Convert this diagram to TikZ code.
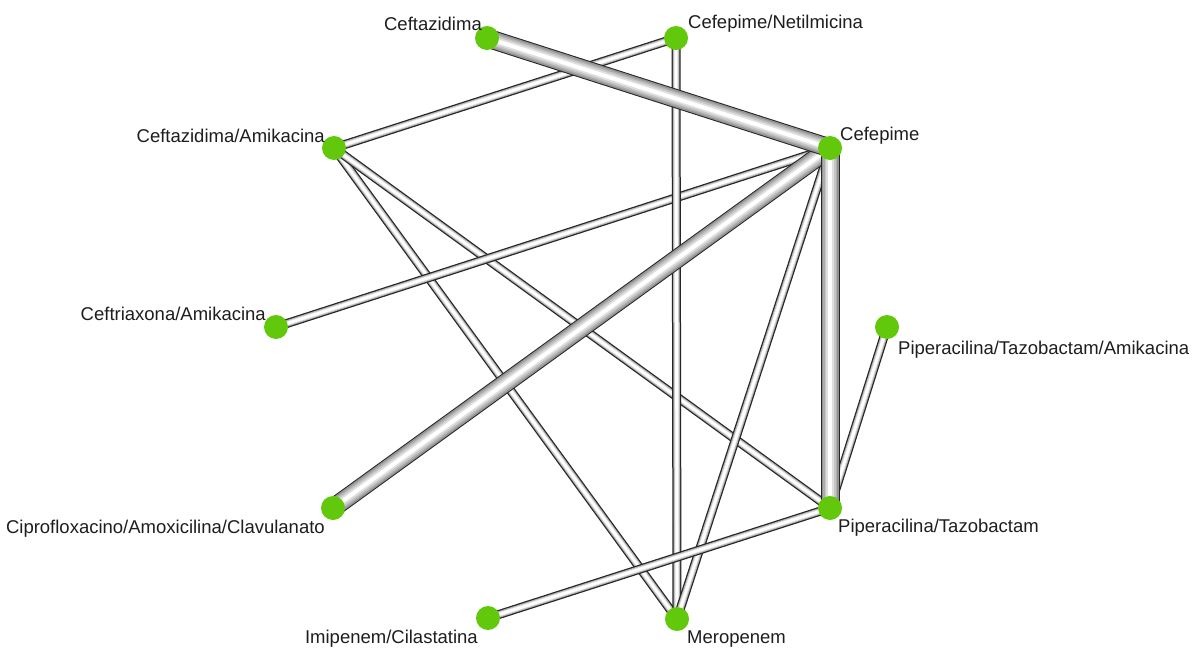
\documentclass[tikz,border=0pt]{standalone}
\usepackage{fontspec}
\setmainfont{Liberation Sans}
\usetikzlibrary{backgrounds}
\definecolor{nodegreen}{RGB}{98,200,12}
\definecolor{labelgray}{RGB}{30,30,30}
\newcommand\thinlink[2]{%
  \draw[line width=9pt, black!85] (#1.center) -- (#2.center);
  \draw[line width=6.5pt, gray!60] (#1.center) -- (#2.center);
  \draw[line width=4.5pt, gray!25] (#1.center) -- (#2.center);
  \draw[line width=2.8pt, white] (#1.center) -- (#2.center);}
\newcommand\thicklink[2]{%
  \draw[line width=19pt, black!85] (#1.center) -- (#2.center);
  \draw[line width=17pt, gray!85] (#1.center) -- (#2.center);
  \draw[line width=14pt, gray!65] (#1.center) -- (#2.center);
  \draw[line width=11pt, gray!45] (#1.center) -- (#2.center);
  \draw[line width=7.5pt, gray!25] (#1.center) -- (#2.center);
  \draw[line width=4pt, white] (#1.center) -- (#2.center);}
\tikzset{
  dot/.style={circle, fill=nodegreen, minimum size=24pt, inner sep=0pt},
  lbl/.style={inner sep=0pt, text=labelgray, font=\fontsize{18.5}{20}\selectfont}
}
\begin{document}
\begin{tikzpicture}[x=1pt,y=-1pt]
\useasboundingbox (0,0) rectangle (1201,650);
% nodes
\node[dot] (ceftaz)   at (487,38) {};
\node[dot] (cefnet)   at (676,38) {};
\node[dot] (ceftazam) at (334,148) {};
\node[dot] (cefepime) at (830,148) {};
\node[dot] (ceftriam) at (276,327) {};
\node[dot] (pipta)    at (887,327) {};
\node[dot] (cipro)    at (333,508) {};
\node[dot] (pipt)     at (830,508) {};
\node[dot] (imip)     at (488,618) {};
\node[dot] (merop)    at (677,619) {};
% edges
\begin{scope}[on background layer]
  \fill[white] (0,0) rectangle (1201,650);
  \thinlink{ceftazam}{merop}
  \thinlink{ceftazam}{pipt}
  \thinlink{cefepime}{ceftriam}
  \thinlink{cefnet}{merop}
  \thinlink{cefepime}{merop}
  \thinlink{pipt}{imip}
  \thinlink{pipta}{pipt}
  \thicklink{cefepime}{cipro}
  \thicklink{cefepime}{pipt}
  \thinlink{cefnet}{ceftazam}
  \thicklink{ceftaz}{cefepime}
\end{scope}
% labels
\node[lbl, anchor=east] (l1) at (482,24) {Ceftazidima};
\node[lbl, anchor=west] (l2) at (688,24) {Cefepime/Netilmicina};
\node[lbl, anchor=east] (l3) at (325,136) {Ceftazidima/Amikacina};
\node[lbl, anchor=west] (l4) at (840,136) {Cefepime};
\node[lbl, anchor=east] (l5) at (266,314) {Ceftriaxona/Amikacina};
\node[lbl, anchor=west] (l6) at (898,350) {Piperacilina/Tazobactam/Amikacina};
\node[lbl, anchor=east] (l7) at (325,529) {Ciprofloxacino/Amoxicilina/Clavulanato};
\node[lbl, anchor=west] (l8) at (838,528) {Piperacilina/Tazobactam};
\node[lbl, anchor=east] (l9) at (478,639) {Imipenem/Cilastatina};
\node[lbl, anchor=west] (l10) at (687,639) {Meropenem};
\end{tikzpicture}
\end{document}
